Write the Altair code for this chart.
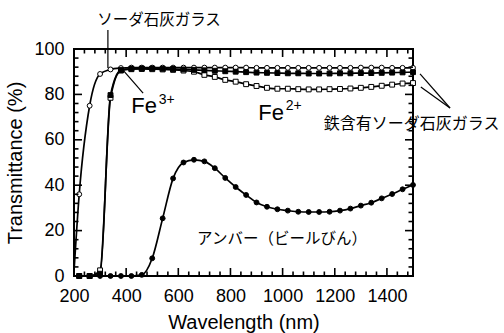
import altair as alt
import pandas as pd

# ---- data ----
wavelength = [220, 260, 300, 340, 380, 420, 460, 500, 540, 580, 620, 660, 700, 740,
              780, 820, 860, 900, 940, 980, 1020, 1060, 1100, 1140, 1180, 1220, 1260,
              1300, 1340, 1380, 1420, 1460, 1500]
clear_glass = [36, 75, 89, 91, 91.6, 91.8, 91.8, 91.8, 91.8, 91.8, 91.8, 91.8, 91.8, 91.8,
               91.8, 91.8, 91.8, 91.7, 91.7, 91.7, 91.7, 91.7, 91.7, 91.7, 91.7, 91.7, 91.7,
               91.8, 91.8, 91.8, 91.7, 91.7, 91.7]
clear_start = (200, 2)   # line start below the first marker
fe3_glass = [0, 0, 1, 79.7, 90.7, 91.3, 91.4, 91.4, 91.3, 91.2, 91.0, 90.8, 90.6, 90.4,
             90.2, 90.0, 89.8, 89.6, 89.5, 89.4, 89.3, 89.3, 89.2, 89.2, 89.2, 89.3, 89.3,
             89.4, 89.4, 89.5, 89.6, 89.7, 89.8]
fe2_glass = [0, 0, 2.5, 78.5, 90.5, 91.1, 91.2, 91.1, 91.0, 90.8, 90.5, 90.0, 88.6, 87.7,
             86.4, 85.6, 84.5, 83.7, 82.9, 82.5, 82.5, 82.3, 82.2, 82.2, 82.3, 82.4, 82.6,
             82.9, 83.3, 83.8, 84.3, 84.8, 85.0]
amber = [0, 0, 0, 0, 0, 0, 0.5, 7.8, 25.4, 43, 50, 51.2, 50.5, 47.5,
         43.2, 39.2, 35.7, 32.4, 30.5, 29.4, 28.8, 28.3, 28.2, 28.2, 28.3, 28.8, 29.7,
         31, 32.3, 34.2, 36.1, 38.2, 40.1]

series_names = ["clear", "fe3", "fe2", "amber"]
series_values = [clear_glass, fe3_glass, fe2_glass, amber]
series_shape = ["circle", "square", "square", "circle"]
series_fill = ["white", "black", "white", "black"]

x_labels = [200, 400, 600, 800, 1000, 1200, 1400]
x_minor = [240, 280, 320, 360, 440, 480, 520, 560, 640, 680, 720, 760, 840, 880, 920, 960,
           1040, 1080, 1120, 1160, 1240, 1280, 1320, 1360, 1440, 1480]
y_labels = [0, 20, 40, 60, 80, 100]
y_minor = [4, 8, 12, 16, 24, 28, 32, 36, 44, 48, 52, 56, 64, 68, 72, 76, 84, 88, 92, 96]

rows = []
for name, vals in zip(series_names, series_values):
    for w, v in zip(wavelength, vals):
        rows.append({"series": name, "w": w, "t": v, "marker": True})
rows.append({"series": "clear", "w": clear_start[0], "t": clear_start[1], "marker": False})
df = pd.DataFrame(rows).sort_values(["series", "w"])
df_pts = df[df["marker"]]

W, H = 339, 227
xs = alt.Scale(domain=[200, 1500], nice=False, zero=False)
ys = alt.Scale(domain=[0, 100], nice=False, zero=False)
LATIN = "Liberation Sans"
CJK = "Noto Sans CJK JP"

x_enc = alt.X("w:Q", scale=xs,
              axis=alt.Axis(values=x_labels, format="d", ticks=False, domain=False, grid=False,
                            labelFlush=False, labelOverlap=False,
                            labelFontSize=18, labelFont=LATIN, labelColor="black",
                            labelPadding=11, title="Wavelength (nm)", titleFont=LATIN,
                            titleFontSize=20, titleFontWeight="normal", titleColor="black",
                            titlePadding=7))
y_enc = alt.Y("t:Q", scale=ys,
              axis=alt.Axis(values=y_labels, format="d", ticks=False, domain=False, grid=False,
                            labelFlush=False, labelOverlap=False,
                            labelFontSize=18, labelFont=LATIN, labelColor="black",
                            labelPadding=10, title="Transmittance (%)", titleFont=LATIN,
                            titleFontSize=20, titleFontWeight="normal", titleColor="black",
                            titlePadding=8))

lines = alt.Chart(df).mark_line(color="black", strokeWidth=1.7, interpolate="monotone").encode(
    x=x_enc, y=y_enc, detail="series:N", order="w:Q")

points = alt.Chart(df_pts).mark_point(size=24, strokeWidth=1, opacity=1, stroke="black").encode(
    x=alt.X("w:Q", scale=xs),
    y=alt.Y("t:Q", scale=ys),
    shape=alt.Shape("series:N", scale=alt.Scale(domain=series_names, range=series_shape), legend=None),
    fill=alt.Fill("series:N", scale=alt.Scale(domain=series_names, range=series_fill), legend=None),
)

# inward ticks on all four sides
MAJ, MIN = 8, 4.5
tx_major = pd.DataFrame({"w": x_labels})
tx_minor = pd.DataFrame({"w": x_minor})
ty_major = pd.DataFrame({"t": y_labels})
ty_minor = pd.DataFrame({"t": y_minor})

def xticks(data, length):
    b = alt.Chart(data).mark_rule(color="black", strokeWidth=1.6).encode(
        x=alt.X("w:Q", scale=xs), y=alt.value(H), y2=alt.value(H - length))
    t = alt.Chart(data).mark_rule(color="black", strokeWidth=1.6).encode(
        x=alt.X("w:Q", scale=xs), y=alt.value(0), y2=alt.value(length))
    return b + t

def yticks(data, length):
    l = alt.Chart(data).mark_rule(color="black", strokeWidth=1.6).encode(
        y=alt.Y("t:Q", scale=ys), x=alt.value(0), x2=alt.value(length))
    r = alt.Chart(data).mark_rule(color="black", strokeWidth=1.6).encode(
        y=alt.Y("t:Q", scale=ys), x=alt.value(W), x2=alt.value(W - length))
    return l + r

ticks = xticks(tx_major, MAJ) + xticks(tx_minor, MIN) + yticks(ty_major, MAJ) + yticks(ty_minor, MIN)

# annotations (data coordinates)
leaders = pd.DataFrame({
    "x1": [330, 388, 1527, 1530],
    "y1": [91.6, 90.7, 89.0, 83.3],
    "x2": [330, 465, 1642, 1642],
    "y2": [108.4, 80.6, 74.0, 74.0],
})
leader_rules = alt.Chart(leaders).mark_rule(color="black", strokeWidth=1.2).encode(
    x=alt.X("x1:Q", scale=xs), y=alt.Y("y1:Q", scale=ys),
    x2="x2:Q", y2="y2:Q")

cjk_labels = pd.DataFrame({
    "x": [526, 1158, 672],
    "y": [112.8, 67.0, 16.5],
    "text": ["ソーダ石灰ガラス", "鉄含有ソーダ石灰ガラス", "アンバー（ビールびん）"],
    "size": [15.5, 16, 15.5],
})
cjk_center = alt.Chart(cjk_labels.iloc[[0]]).mark_text(
    font=CJK, fontSize=15.5, color="black", align="center", baseline="middle").encode(
    x=alt.X("x:Q", scale=xs), y=alt.Y("y:Q", scale=ys), text="text:N")
cjk_left1 = alt.Chart(cjk_labels.iloc[[1]]).mark_text(
    font=CJK, fontSize=16, color="black", align="left", baseline="middle").encode(
    x=alt.X("x:Q", scale=xs), y=alt.Y("y:Q", scale=ys), text="text:N")
cjk_left2 = alt.Chart(cjk_labels.iloc[[2]]).mark_text(
    font=CJK, fontSize=15.5, color="black", align="left", baseline="middle").encode(
    x=alt.X("x:Q", scale=xs), y=alt.Y("y:Q", scale=ys), text="text:N")

fe_main = pd.DataFrame({"x": [420, 907], "y": [71.8, 68.7], "text": ["Fe", "Fe"]})
fe_sup = pd.DataFrame({"x": [525, 1012], "y": [75.6, 73.1], "text": ["3+", "2+"]})
fe_text = alt.Chart(fe_main).mark_text(
    font=LATIN, fontSize=22, color="black", align="left", baseline="alphabetic").encode(
    x=alt.X("x:Q", scale=xs), y=alt.Y("y:Q", scale=ys), text="text:N")
fe_sup_text = alt.Chart(fe_sup).mark_text(
    font=LATIN, fontSize=14, color="black", align="left", baseline="alphabetic").encode(
    x=alt.X("x:Q", scale=xs), y=alt.Y("y:Q", scale=ys), text="text:N")

chart = alt.layer(
    lines, points, ticks, leader_rules, cjk_center, cjk_left1, cjk_left2, fe_text, fe_sup_text
).properties(
    width=W, height=H,
    padding={"left": 74, "top": 49, "right": 91, "bottom": 57},
    autosize=alt.AutoSizeParams(type="none"),
    background="white",
).configure_view(stroke="black", strokeWidth=2)

chart.save("out.html", embed_options={"renderer": "svg", "actions": False})
